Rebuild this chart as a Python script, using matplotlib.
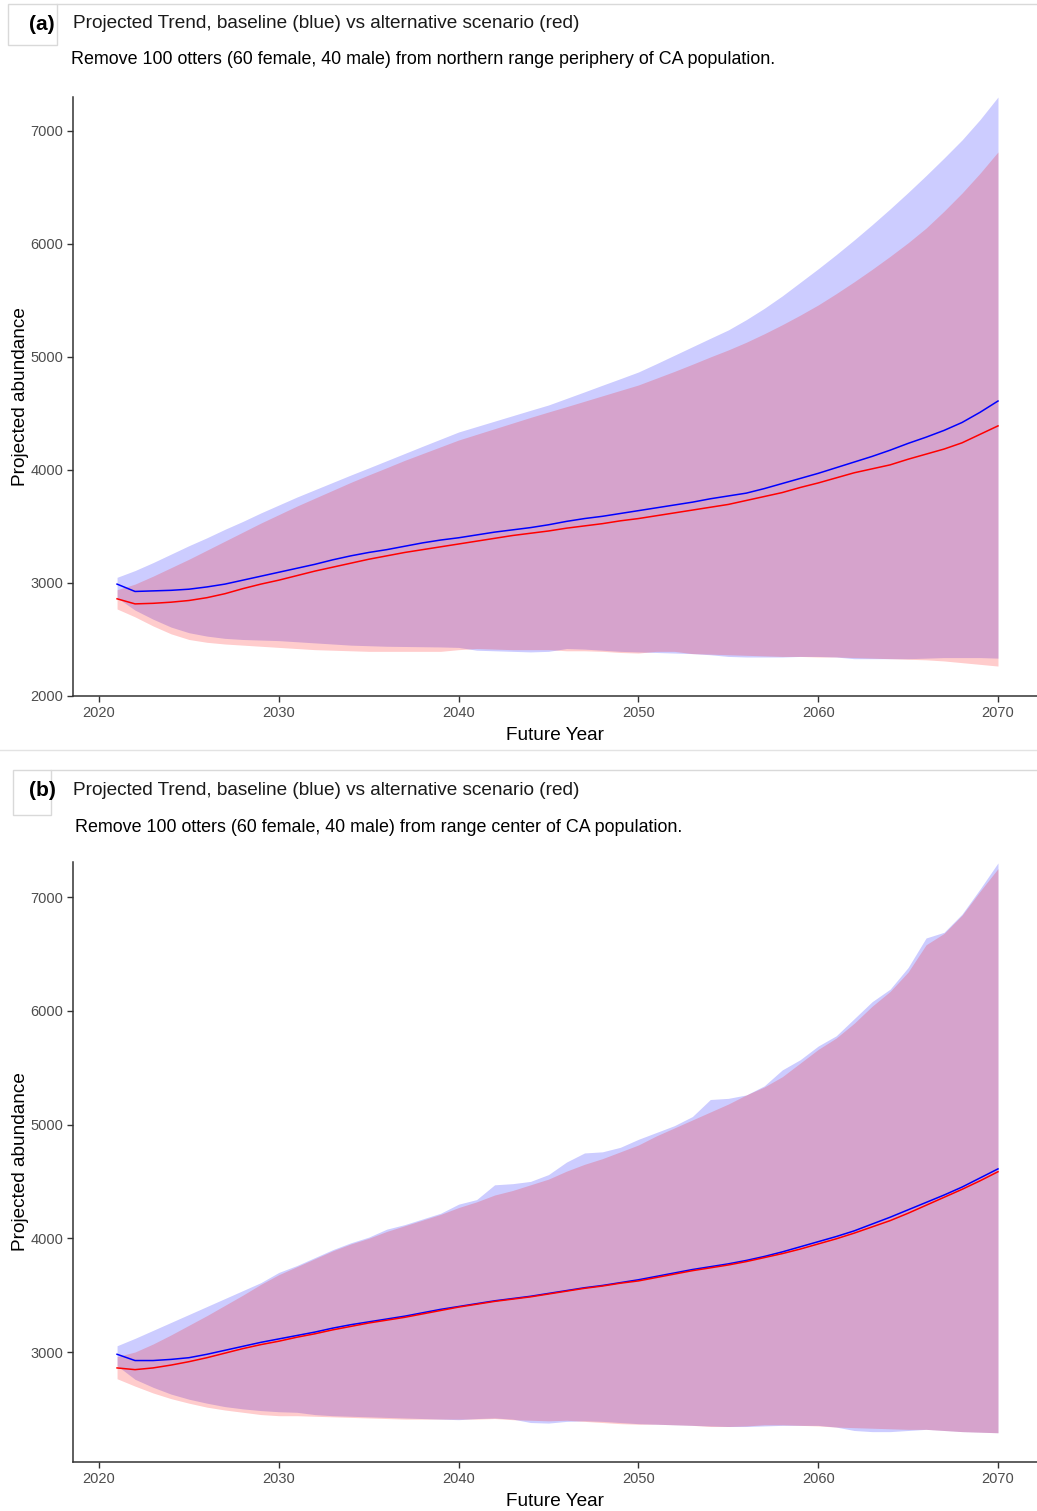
import numpy as np
import matplotlib
matplotlib.use("Agg")
import matplotlib.pyplot as plt
from matplotlib.patches import Rectangle
from matplotlib.lines import Line2D

plt.rcParams["font.family"] = ["Liberation Sans", "DejaVu Sans"]

years = list(range(2021, 2071))

# ---- Panel (a): removal from northern range periphery ----
a_base_mean = [2990, 2925, 2930, 2935, 2945, 2965, 2990, 3025, 3060, 3095,
               3130, 3165, 3205, 3240, 3270, 3295, 3325, 3355, 3380, 3400,
               3425, 3450, 3470, 3490, 3515, 3545, 3570, 3590, 3615, 3640,
               3665, 3690, 3715, 3745, 3770, 3795, 3835, 3880, 3925, 3970,
               4020, 4070, 4120, 4175, 4235, 4290, 4350, 4420, 4510, 4610]
a_alt_mean = [2860, 2815, 2820, 2830, 2845, 2870, 2905, 2950, 2990, 3025,
              3065, 3105, 3140, 3175, 3210, 3240, 3270, 3295, 3320, 3345,
              3370, 3395, 3420, 3440, 3460, 3485, 3505, 3525, 3550, 3570,
              3595, 3620, 3645, 3670, 3695, 3730, 3765, 3800, 3845, 3885,
              3930, 3975, 4010, 4045, 4095, 4140, 4185, 4240, 4315, 4390]
a_base_hi = [3050, 3110, 3180, 3255, 3330, 3400, 3475, 3545, 3620, 3690,
             3760, 3825, 3890, 3955, 4018, 4082, 4146, 4210, 4273, 4336,
             4384, 4432, 4480, 4528, 4575, 4633, 4691, 4750, 4808, 4867,
             4940, 5015, 5090, 5165, 5239, 5330, 5430, 5540, 5660, 5780,
             5905, 6035, 6170, 6310, 6455, 6605, 6760, 6920, 7100, 7300]
a_alt_hi = [2940, 2990, 3060, 3135, 3210, 3290, 3370, 3450, 3530, 3605,
            3680, 3750, 3820, 3890, 3956, 4020, 4085, 4145, 4205, 4265,
            4315, 4365, 4415, 4465, 4513, 4560, 4608, 4656, 4704, 4752,
            4812, 4872, 4935, 5000, 5062, 5130, 5205, 5285, 5370, 5460,
            5560, 5665, 5775, 5890, 6010, 6140, 6290, 6450, 6625, 6814]
a_base_lo = [2870, 2760, 2680, 2610, 2560, 2530, 2510, 2500, 2495, 2490,
             2480, 2470, 2460, 2450, 2445, 2440, 2438, 2436, 2434, 2430,
             2405, 2400, 2395, 2390, 2395, 2420, 2415, 2405, 2395, 2390,
             2385, 2380, 2375, 2365, 2350, 2345, 2345, 2345, 2350, 2350,
             2345, 2330, 2330, 2330, 2330, 2335, 2340, 2340, 2340, 2335]
a_alt_lo = [2770, 2700, 2620, 2550, 2500, 2475, 2460, 2450, 2440, 2430,
            2420, 2410, 2405, 2400, 2395, 2395, 2395, 2395, 2395, 2410,
            2420, 2415, 2410, 2410, 2410, 2400, 2400, 2395, 2385, 2380,
            2395, 2395, 2375, 2370, 2365, 2360, 2355, 2350, 2350, 2345,
            2345, 2340, 2335, 2330, 2325, 2320, 2310, 2295, 2280, 2265]

# ---- Panel (b): removal from range center ----
b_base_mean = [2980, 2925, 2925, 2935, 2950, 2980, 3015, 3050, 3085, 3115,
               3145, 3175, 3210, 3240, 3265, 3290, 3315, 3345, 3375, 3400,
               3425, 3450, 3470, 3490, 3515, 3540, 3565, 3585, 3610, 3635,
               3665, 3695, 3725, 3750, 3775, 3805, 3840, 3880, 3925, 3970,
               4015, 4065, 4125, 4185, 4250, 4315, 4380, 4450, 4530, 4610]
b_alt_mean = [2860, 2845, 2860, 2885, 2915, 2950, 2990, 3030, 3065, 3095,
              3130, 3160, 3195, 3225, 3255, 3280, 3305, 3335, 3365, 3395,
              3420, 3445, 3465, 3485, 3510, 3535, 3560, 3580, 3605, 3625,
              3655, 3685, 3715, 3740, 3765, 3795, 3830, 3865, 3905, 3950,
              3995, 4045, 4100, 4155, 4220, 4290, 4360, 4430, 4505, 4585]
b_base_hi = [3055, 3120, 3190, 3260, 3330, 3400, 3470, 3540, 3610, 3700,
             3760, 3830, 3900, 3960, 4010, 4080, 4120, 4170, 4220, 4300,
             4340, 4470, 4480, 4500, 4560, 4670, 4750, 4760, 4800, 4870,
             4930, 4990, 5070, 5220, 5230, 5260, 5340, 5480, 5570, 5690,
             5780, 5930, 6080, 6190, 6380, 6640, 6690, 6850, 7070, 7300]
b_alt_hi = [2960, 3000, 3070, 3150, 3235, 3320, 3410, 3500, 3595, 3680,
            3750, 3820, 3890, 3950, 4000, 4060, 4110, 4160, 4210, 4270,
            4320, 4380, 4420, 4470, 4520, 4590, 4650, 4700, 4760, 4820,
            4900, 4970, 5040, 5110, 5180, 5260, 5330, 5420, 5540, 5660,
            5760, 5890, 6040, 6170, 6340, 6580, 6680, 6840, 7050, 7250]
b_base_lo = [2880, 2760, 2690, 2630, 2585, 2550, 2520, 2500, 2485, 2475,
             2470, 2450, 2440, 2435, 2430, 2425, 2420, 2415, 2410, 2405,
             2415, 2420, 2410, 2380, 2375, 2390, 2395, 2390, 2380, 2370,
             2365, 2360, 2355, 2350, 2345, 2345, 2350, 2355, 2355, 2355,
             2340, 2310, 2300, 2300, 2310, 2320, 2310, 2300, 2295, 2290]
b_alt_lo = [2765, 2700, 2640, 2590, 2550, 2515, 2490, 2470, 2450, 2440,
            2440, 2435, 2430, 2425, 2420, 2415, 2410, 2410, 2410, 2410,
            2410, 2415, 2405, 2400, 2395, 2400, 2390, 2380, 2370, 2365,
            2365, 2360, 2355, 2345, 2345, 2350, 2360, 2360, 2355, 2350,
            2340, 2335, 2330, 2325, 2320, 2320, 2310, 2300, 2295, 2290]

title_text = "Projected Trend, baseline (blue) vs alternative scenario (red)"
subtitle_a = "Remove 100 otters (60 female, 40 male) from northern range periphery of CA population."
subtitle_b = "Remove 100 otters (60 female, 40 male) from range center of CA population."
x_ticks = [2020, 2030, 2040, 2050, 2060, 2070]
y_ticks = [2000, 3000, 4000, 5000, 6000, 7000]

W, H = 1037, 1511
fig = plt.figure(figsize=(W / 100, H / 100), dpi=100)


def fx(px):
    return px / W


def fy(py):
    return 1 - py / H


def panel(top_px, bottom_px, ylim, base, alt):
    ax = fig.add_axes([fx(73), fy(bottom_px), fx(W - 73), fy(top_px) - fy(bottom_px)])
    bm, bl, bh = base
    am, al, ah = alt
    ax.fill_between(years, bl, bh, color="blue", alpha=0.2, linewidth=0)
    ax.plot(years, bm, color="blue", lw=1.1)
    ax.fill_between(years, al, ah, color="red", alpha=0.2, linewidth=0)
    ax.plot(years, am, color="red", lw=1.1)
    ax.set_xlim(2018.55, 2072.17)
    ax.set_ylim(*ylim)
    ax.set_xticks(x_ticks)
    ax.set_yticks([t for t in y_ticks if ylim[0] <= t <= ylim[1]])
    for s in ("top", "right"):
        ax.spines[s].set_visible(False)
    for s in ("left", "bottom"):
        ax.spines[s].set_color("#333333")
        ax.spines[s].set_linewidth(1.1)
    ax.tick_params(length=4, width=1.0, color="#333333", labelcolor="#4d4d4d",
                   labelsize=10.5, pad=3)
    ax.set_xlabel("Future Year", fontsize=13.7, color="black", labelpad=5)
    ax.set_ylabel("Projected abundance", fontsize=13.7, color="black")
    ax.yaxis.set_label_coords(-0.046, 0.5)
    return ax


ax_a = panel(97, 696, (2000, 7300),
             (a_base_mean, a_base_lo, a_base_hi), (a_alt_mean, a_alt_lo, a_alt_hi))
ax_b = panel(862, 1462, (2033, 7308),
             (b_base_mean, b_base_lo, b_base_hi), (b_alt_mean, b_alt_lo, b_alt_hi))

# header frames and separators
frame = "#d9d9d9"
fig.add_artist(Rectangle((fx(8), fy(45)), fx(49), fy(4) - fy(45), fill=False,
                         edgecolor=frame, lw=1.0, transform=fig.transFigure))
fig.add_artist(Line2D([fx(57), 1], [fy(4), fy(4)], color=frame, lw=1.0,
                      transform=fig.transFigure))
fig.add_artist(Line2D([0, 1], [fy(750), fy(750)], color="#e3e3e3", lw=1.0,
                      transform=fig.transFigure))
fig.add_artist(Rectangle((fx(13), fy(815)), fx(38), fy(770) - fy(815), fill=False,
                         edgecolor=frame, lw=1.0, transform=fig.transFigure))
fig.add_artist(Line2D([fx(51), 1], [fy(770), fy(770)], color=frame, lw=1.0,
                      transform=fig.transFigure))

# panel letters, titles, subtitles
fig.text(fx(42), fy(24), "(a)", fontsize=15, fontweight="bold", ha="center", va="center")
fig.text(fx(73), fy(24), title_text, fontsize=13.7, color="#1a1a1a", ha="left", va="center")
fig.text(fx(71), fy(60), subtitle_a, fontsize=12.9, color="black", ha="left", va="center")

fig.text(fx(42), fy(791), "(b)", fontsize=15, fontweight="bold", ha="center", va="center")
fig.text(fx(73), fy(791), title_text, fontsize=13.7, color="#1a1a1a", ha="left", va="center")
fig.text(fx(75), fy(828), subtitle_b, fontsize=12.9, color="black", ha="left", va="center")

fig.savefig("out.png", dpi=100)
